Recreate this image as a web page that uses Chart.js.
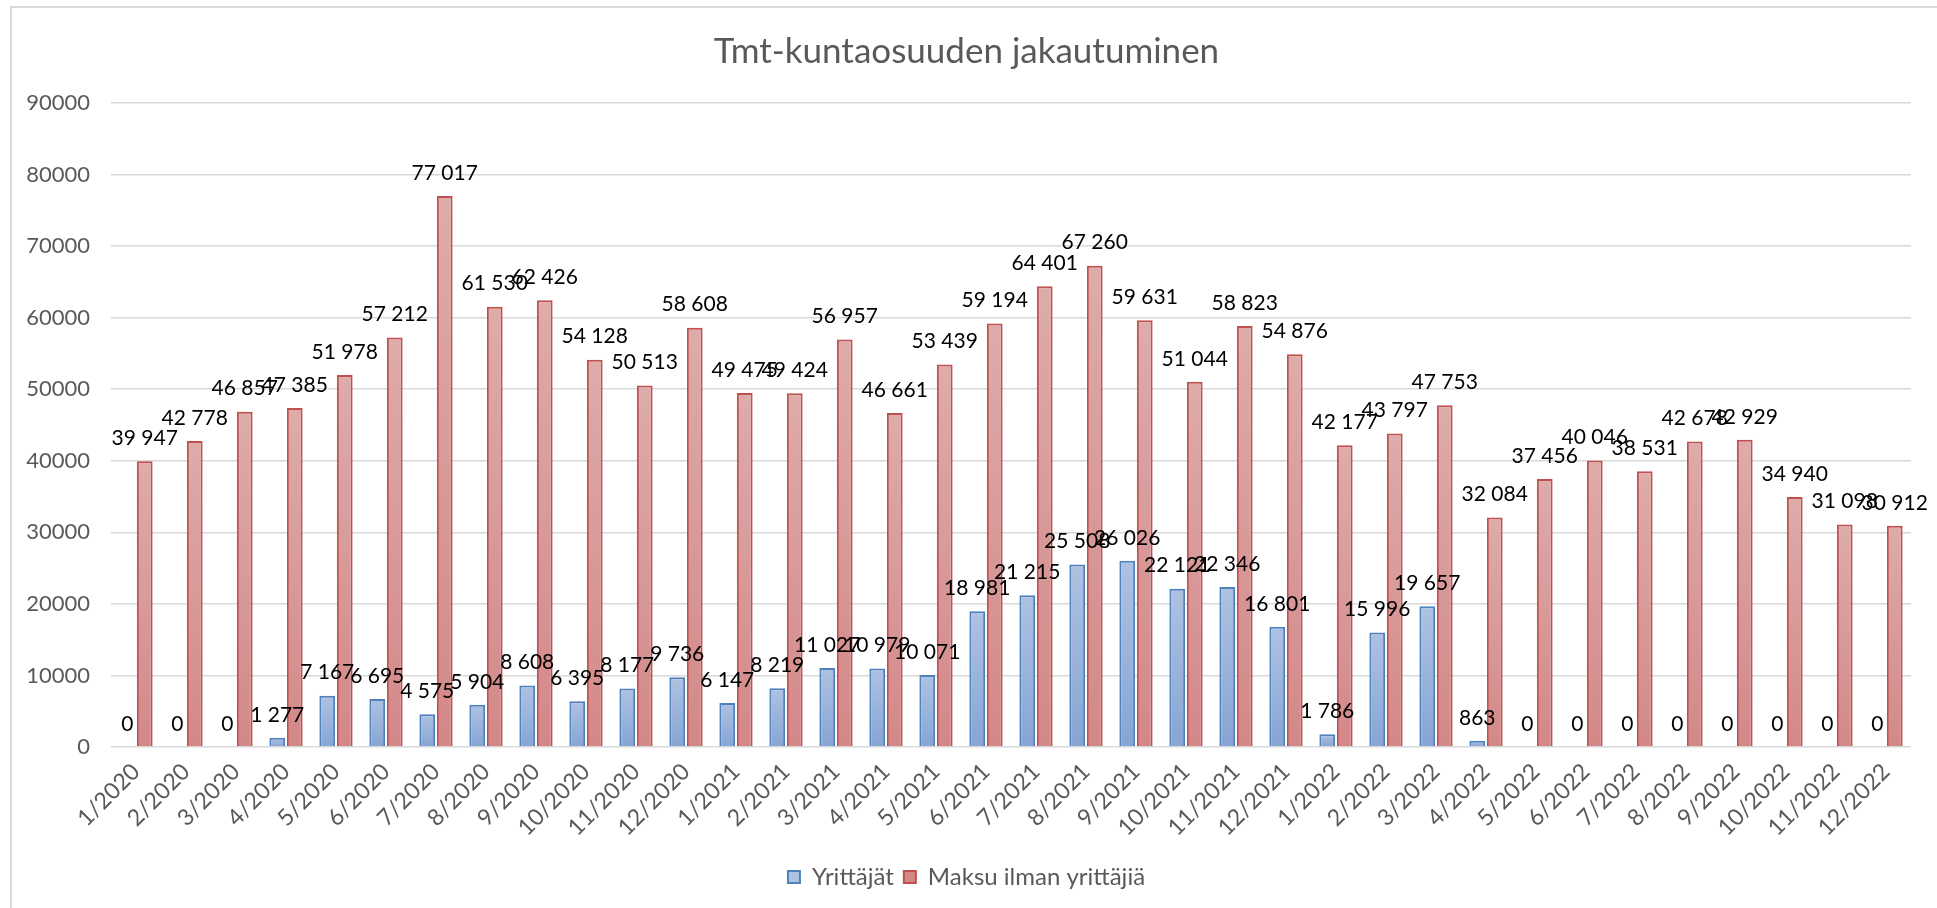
<!DOCTYPE html>
<html>
<head>
<meta charset="utf-8">
<script src="https://cdn.jsdelivr.net/npm/chart.js@4.4.1/dist/chart.umd.min.js"></script>
<style>
  html, body { margin: 0; padding: 0; background: #fff; overflow: hidden; }
  #frame { position: absolute; left: 10px; top: 6px; width: 2000px; height: 1000px; border: 2px solid #d9d9d9; box-sizing: border-box; }
  #chart { position: absolute; left: 0; top: 0; }
</style>
</head>
<body>
<div id="frame"></div>
<canvas id="chart" width="1937" height="908"></canvas>
<script>
/* Tmt-kuntaosuuden jakautuminen: grouped bars, 36 months */

const MONTHS = [
  '1/2020', '2/2020', '3/2020', '4/2020', '5/2020', '6/2020', '7/2020', '8/2020', '9/2020', '10/2020', '11/2020', '12/2020',
  '1/2021', '2/2021', '3/2021', '4/2021', '5/2021', '6/2021', '7/2021', '8/2021', '9/2021', '10/2021', '11/2021', '12/2021',
  '1/2022', '2/2022', '3/2022', '4/2022', '5/2022', '6/2022', '7/2022', '8/2022', '9/2022', '10/2022', '11/2022', '12/2022',
];
const YRITTAJAT = [
  0, 0, 0, 1277, 7167, 6695, 4575, 5904, 8608, 6395, 8177, 9736,
  6147, 8219, 11027, 10979, 10071, 18981, 21215, 25508, 26026, 22121, 22346, 16801,
  1786, 15996, 19657, 863, 0, 0, 0, 0, 0, 0, 0, 0,
];
const MAKSU = [
  39947, 42778, 46857, 47385, 51978, 57212, 77017, 61530, 62426, 54128, 50513, 58608,
  49475, 49424, 56957, 46661, 53439, 59194, 64401, 67260, 59631, 51044, 58823, 54876,
  42177, 43797, 47753, 32084, 37456, 40046, 38531, 42678, 42929, 34940, 31098, 30912,
];
const Y_TICKS = [0, 10000, 20000, 30000, 40000, 50000, 60000, 70000, 80000, 90000];

const FONT = 'Lato, "Open Sans", sans-serif';
const GREY_TEXT = '#595959';
const BLUE = { top: '#aec2e2', bottom: '#86a5d4', line: '#4f81bd' };
const RED = { top: '#deabab', bottom: '#d38888', line: '#c0504d' };

const fmt = (v) => String(v).replace(/\B(?=(\d{3})+(?!\d))/g, ' ');

// each bar gets its own vertical gradient, like the Excel original
function barFill(c) {
  return (ctx) => {
    if (ctx.type !== 'data' || !ctx.parsed) return c.top;
    const y = ctx.chart.scales.y;
    const top = y.getPixelForValue(ctx.parsed.y);
    const base = y.getPixelForValue(0);
    if (!isFinite(top) || base - top < 1) return c.top;
    const g = ctx.chart.ctx.createLinearGradient(0, top, 0, base);
    g.addColorStop(0, c.top);
    g.addColorStop(1, c.bottom);
    return g;
  };
}

const valueLabels = {
  id: 'valueLabels',
  afterDatasetsDraw(chart) {
    const ctx = chart.ctx;
    ctx.save();
    ctx.font = '21px ' + FONT;
    ctx.fillStyle = '#000';
    ctx.textAlign = 'center';
    ctx.textBaseline = 'middle';
    chart.data.datasets.forEach((ds, i) => {
      chart.getDatasetMeta(i).data.forEach((bar, j) => {
        ctx.fillText(fmt(ds.data[j]), bar.x, bar.y - 23);
      });
    });
    ctx.restore();
  },
};

new Chart(document.getElementById('chart'), {
  type: 'bar',
  data: {
    labels: MONTHS,
    datasets: [
      { label: 'Yrittäjät', data: YRITTAJAT, backgroundColor: barFill(BLUE), borderColor: BLUE.line, borderWidth: 2, borderSkipped: 'bottom' },
      { label: 'Maksu ilman yrittäjiä', data: MAKSU, backgroundColor: barFill(RED), borderColor: RED.line, borderWidth: 2, borderSkipped: 'bottom' },
    ],
  },
  options: {
    responsive: false,
    animation: false,
    devicePixelRatio: 1,
    datasets: { bar: { categoryPercentage: 0.7, barPercentage: 0.9 } },
    layout: { padding: { left: 22, right: 26, top: 0, bottom: 9 } },
    plugins: {
      tooltip: { enabled: false },
      title: {
        display: true,
        text: 'Tmt-kuntaosuuden jakautuminen',
        color: GREY_TEXT,
        font: { family: FONT, size: 35, weight: 'normal' },
        padding: { top: 31, bottom: 30 },
      },
      legend: {
        position: 'bottom',
        labels: {
          color: GREY_TEXT,
          font: { family: FONT, size: 24 },
          boxWidth: 12, boxHeight: 12, padding: 10,
        },
      },
    },
    scales: {
      x: {
        grid: { display: false },
        border: { display: false },
        ticks: { color: GREY_TEXT, font: { family: FONT, size: 23 }, minRotation: 45, maxRotation: 45, autoSkip: false },
        afterFit: (s) => { s.height = 108; },
      },
      y: {
        min: 0, max: 90000,
        afterBuildTicks: (s) => { s.ticks = Y_TICKS.map((v) => ({ value: v })); },
        grid: { color: '#d9d9d9', lineWidth: 1.5, drawTicks: false },
        border: { display: false },
        ticks: { color: GREY_TEXT, font: { family: FONT, size: 22 }, padding: 21, callback: (v) => String(v) },
        afterFit: (s) => { s.width = 89; },
      },
    },
  },
  plugins: [valueLabels],
});
</script>
</body>
</html>
